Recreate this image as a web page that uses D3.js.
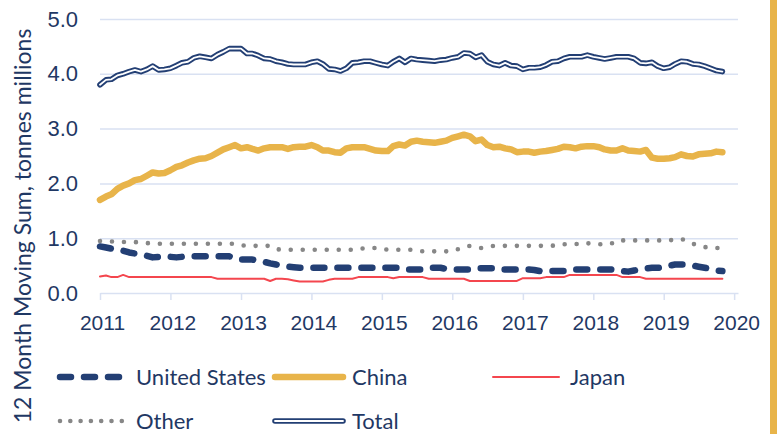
<!DOCTYPE html>
<html>
<head>
<meta charset="utf-8">
<script src="https://cdn.jsdelivr.net/npm/d3@7"></script>
<style>
  body { margin: 0; background: #fff; }
  svg { display: block; font-family: Lato, 'Open Sans', sans-serif; }
</style>
</head>
<body>
<div class="chart"></div>
<script>
// 12 month moving sums, tonnes millions, monthly from Jan 2011

var startMonth = new Date(2011, 0, 1);

var usValues = [
	0.85, 0.83, 0.81, 0.79, 0.77, 0.74, 0.72, 0.70, 0.68, 0.65, 0.66, 0.67,
	0.66, 0.65, 0.66, 0.67, 0.67, 0.67, 0.67, 0.67, 0.67, 0.67, 0.67, 0.63,
	0.61, 0.61, 0.61, 0.59, 0.57, 0.54, 0.52, 0.50, 0.48, 0.47, 0.46, 0.46,
	0.46, 0.46, 0.46, 0.46, 0.46, 0.46, 0.46, 0.46, 0.46, 0.46, 0.46, 0.46,
	0.46, 0.46, 0.46, 0.46, 0.43, 0.43, 0.43, 0.43, 0.46, 0.46, 0.46, 0.44,
	0.43, 0.43, 0.43, 0.43, 0.45, 0.45, 0.45, 0.45, 0.43, 0.43, 0.43, 0.43,
	0.43, 0.43, 0.42, 0.40, 0.40, 0.40, 0.40, 0.40, 0.43, 0.43, 0.43, 0.43,
	0.43, 0.43, 0.43, 0.43, 0.42, 0.40, 0.39, 0.41, 0.43, 0.45, 0.46, 0.46,
	0.47, 0.50, 0.52, 0.52, 0.52, 0.50, 0.48, 0.46, 0.44, 0.41, 0.40
];

var chinaValues = [
	1.70, 1.76, 1.80, 1.90, 1.96, 2.00, 2.06, 2.08, 2.14, 2.20, 2.18, 2.19,
	2.24, 2.30, 2.33, 2.38, 2.42, 2.45, 2.46, 2.50, 2.56, 2.62, 2.66, 2.70,
	2.64, 2.66, 2.63, 2.60, 2.64, 2.66, 2.66, 2.66, 2.63, 2.66, 2.67, 2.67,
	2.70, 2.66, 2.60, 2.60, 2.57, 2.56, 2.64, 2.66, 2.66, 2.66, 2.63, 2.60,
	2.59, 2.59, 2.68, 2.71, 2.69, 2.76, 2.78, 2.76, 2.75, 2.74, 2.76, 2.78,
	2.83, 2.86, 2.89, 2.86, 2.77, 2.80, 2.70, 2.66, 2.67, 2.64, 2.62, 2.57,
	2.58, 2.58, 2.56, 2.58, 2.59, 2.61, 2.63, 2.67, 2.66, 2.64, 2.67, 2.68,
	2.68, 2.66, 2.62, 2.60, 2.60, 2.64, 2.60, 2.59, 2.58, 2.61, 2.47, 2.45,
	2.45, 2.46, 2.48, 2.53, 2.50, 2.49, 2.53, 2.54, 2.55, 2.58, 2.57
];

var japanValues = [
	0.30, 0.32, 0.29, 0.29, 0.33, 0.29, 0.29, 0.29, 0.29, 0.29, 0.29, 0.29,
	0.29, 0.29, 0.29, 0.29, 0.29, 0.29, 0.29, 0.29, 0.26, 0.26, 0.26, 0.26,
	0.26, 0.26, 0.26, 0.26, 0.26, 0.22, 0.26, 0.26, 0.25, 0.23, 0.21, 0.21,
	0.21, 0.21, 0.21, 0.24, 0.26, 0.26, 0.26, 0.26, 0.29, 0.29, 0.29, 0.29,
	0.29, 0.29, 0.27, 0.29, 0.29, 0.29, 0.29, 0.29, 0.26, 0.26, 0.26, 0.26,
	0.26, 0.26, 0.26, 0.22, 0.22, 0.22, 0.22, 0.22, 0.22, 0.22, 0.22, 0.22,
	0.27, 0.27, 0.27, 0.27, 0.29, 0.29, 0.29, 0.29, 0.33, 0.33, 0.33, 0.33,
	0.33, 0.33, 0.33, 0.33, 0.33, 0.29, 0.29, 0.29, 0.29, 0.26, 0.26, 0.26,
	0.26, 0.26, 0.26, 0.26, 0.26, 0.26, 0.26, 0.26, 0.26, 0.26, 0.26
];

var otherValues = [
	0.95, 0.94, 0.94, 0.93, 0.93, 0.93, 0.93, 0.92, 0.91, 0.91, 0.90, 0.90,
	0.90, 0.90, 0.90, 0.90, 0.90, 0.90, 0.90, 0.90, 0.90, 0.90, 0.90, 0.90,
	0.87, 0.86, 0.86, 0.86, 0.86, 0.86, 0.80, 0.79, 0.79, 0.79, 0.79, 0.79,
	0.79, 0.79, 0.79, 0.79, 0.79, 0.79, 0.79, 0.79, 0.79, 0.82, 0.83, 0.82,
	0.80, 0.79, 0.79, 0.79, 0.79, 0.79, 0.78, 0.76, 0.76, 0.76, 0.76, 0.76,
	0.76, 0.80, 0.84, 0.86, 0.84, 0.82, 0.84, 0.86, 0.86, 0.86, 0.86, 0.86,
	0.86, 0.86, 0.86, 0.86, 0.86, 0.86, 0.89, 0.89, 0.89, 0.89, 0.92, 0.91,
	0.89, 0.89, 0.89, 0.89, 0.96, 0.96, 0.96, 0.96, 0.96, 0.96, 0.96, 0.96,
	0.96, 0.96, 0.98, 0.99, 0.95, 0.90, 0.86, 0.84, 0.82, 0.82, 0.82
];

var totalValues = [
	3.80, 3.89, 3.90, 3.97, 4.00, 4.04, 4.07, 4.04, 4.08, 4.14, 4.07, 4.08,
	4.10, 4.15, 4.20, 4.22, 4.29, 4.32, 4.30, 4.28, 4.35, 4.40, 4.46, 4.46,
	4.46, 4.37, 4.37, 4.33, 4.28, 4.27, 4.23, 4.21, 4.18, 4.17, 4.17, 4.17,
	4.21, 4.23, 4.18, 4.09, 4.08, 4.05, 4.10, 4.20, 4.21, 4.23, 4.23, 4.20,
	4.17, 4.15, 4.22, 4.28, 4.21, 4.28, 4.26, 4.25, 4.24, 4.23, 4.25, 4.26,
	4.29, 4.31, 4.38, 4.37, 4.30, 4.34, 4.22, 4.17, 4.15, 4.20, 4.15, 4.14,
	4.08, 4.11, 4.11, 4.12, 4.16, 4.22, 4.23, 4.28, 4.31, 4.31, 4.31, 4.34,
	4.31, 4.29, 4.27, 4.29, 4.31, 4.31, 4.31, 4.28, 4.20, 4.19, 4.21, 4.14,
	4.10, 4.12, 4.18, 4.23, 4.22, 4.18, 4.17, 4.14, 4.10, 4.06, 4.04
];

var yTicks = [0, 1, 2, 3, 4, 5];
var seriesNames = ['United States', 'China', 'Japan', 'Other', 'Total'];

var navy = '#233f74';
var textColor = '#1f3864';
var gridColor = '#d9e1f2';

var width = 777, height = 434;
var plotLeft = 100, plotRight = 738, plotTop = 19, plotBottom = 293;

var svg = d3.select('.chart')
	.append('svg')
	.attr('width', width)
	.attr('height', height);

// gold bar on the right edge
svg.append('rect')
	.attr('x', 770)
	.attr('y', 0)
	.attr('width', 7)
	.attr('height', height)
	.style('fill', '#e8b44a');

var x = d3.scaleTime()
	.domain([startMonth, new Date(2020, 0, 21)])
	.range([plotLeft, plotRight]);

var y = d3.scaleLinear()
	.domain([0, 5])
	.range([plotBottom, plotTop]);

function monthOf(i) { return d3.timeMonth.offset(startMonth, i); }

// y axis with gridlines

var yAxis = svg.append('g')
	.attr('transform', 'translate(' + plotLeft + ',0)')
	.call(d3.axisLeft(y)
		.tickValues(yTicks)
		.tickFormat(d3.format('.1f'))
		.tickSizeInner(-(plotRight - plotLeft))
		.tickSizeOuter(0)
		.tickPadding(22));

yAxis.select('.domain').remove();
yAxis.selectAll('line')
	.style('stroke', gridColor)
	.style('stroke-width', 1.5)
	.filter(function(d){ return d == 0; }).remove();
yAxis.selectAll('text')
	.style('fill', textColor)
	.style('font-size', '22px');

// x axis

var xAxis = svg.append('g')
	.attr('transform', 'translate(0,' + plotBottom + ')')
	.call(d3.axisBottom(x)
		.ticks(d3.timeYear.every(1))
		.tickFormat(d3.timeFormat('%Y'))
		.tickSizeInner(7)
		.tickSizeOuter(0)
		.tickPadding(15));

xAxis.select('.domain')
	.style('stroke', gridColor)
	.style('stroke-width', 1.5);
xAxis.selectAll('line')
	.style('stroke', gridColor)
	.style('stroke-width', 1.5);
xAxis.selectAll('text')
	.attr('dx', 2)
	.style('fill', textColor)
	.style('font-size', '21px');

// y axis title

svg.append('text')
	.attr('transform', 'translate(31,226) rotate(-90)')
	.style('text-anchor', 'middle')
	.style('fill', textColor)
	.style('font-size', '23px')
	.text('12 Month Moving Sum, tonnes millions');

// lines

var line = d3.line()
	.x(function(d, i){ return x(monthOf(i)); })
	.y(function(d){ return y(d); });

function addLine(values, color, w, dash) {
	return svg.append('path')
		.datum(values)
		.attr('d', line)
		.style('fill', 'none')
		.style('stroke', color)
		.style('stroke-width', w)
		.style('stroke-linejoin', 'round')
		.style('stroke-linecap', 'round')
		.style('stroke-dasharray', dash || null);
}

addLine(japanValues, '#f4464e', 2);
addLine(otherValues, '#878787', 4.6, '0,12');
addLine(usValues, navy, 6.5, '11,13');
addLine(chinaValues, '#e8b44a', 6.5);
addLine(totalValues, navy, 5.6);
addLine(totalValues, '#ffffff', 1.8);

// legend

var legendX = [57, 272, 490];

var legend = svg.selectAll('.legend')
	.data(seriesNames)
	.enter().append('g')
	.attr('class', 'legend')
	.attr('transform', function(d, i){
		return 'translate(' + legendX[i % 3] + ',' + (377 + Math.floor(i / 3) * 44) + ')';
	});

legend.each(function(d) {
	var g = d3.select(this);
	function swatch(color, w, dash, len) {
		g.append('line')
			.attr('x1', 3).attr('x2', len)
			.attr('y1', 0).attr('y2', 0)
			.style('stroke', color)
			.style('stroke-width', w)
			.style('stroke-linecap', 'round')
			.style('stroke-dasharray', dash || null);
	}
	if (d == 'United States') { swatch(navy, 6.5, '11,13', 66); }
	else if (d == 'China') { swatch('#e8b44a', 6.5, null, 71); }
	else if (d == 'Japan') { swatch('#f4464e', 2, null, 69); }
	else if (d == 'Other') { swatch('#878787', 4.6, '0,10.3', 66); }
	else { swatch(navy, 5.6, null, 71); swatch('#ffffff', 1.8, null, 71); }
});

legend.append('text')
	.attr('x', function(d, i){ return i % 3 == 0 ? 79 : 80; })
	.attr('y', 0)
	.attr('dy', '.35em')
	.style('fill', textColor)
	.style('font-size', '22px')
	.text(function(d){ return d; });
</script>
</body>
</html>
